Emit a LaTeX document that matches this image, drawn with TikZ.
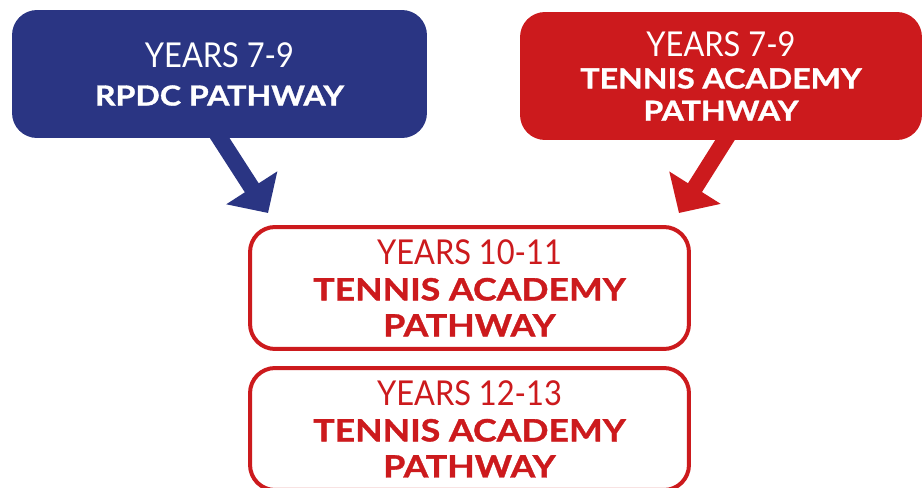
\documentclass[tikz,border=0pt]{standalone}
\usepackage{fontspec}
\setmainfont{Lato}
\newfontfamily\headfont{Lato}[FakeStretch=1.16, BoldFeatures={FakeBold=1.2}]
\newfontfamily\yrsfont{Lato}[FakeStretch=0.9]
\usetikzlibrary{arrows.meta}
\definecolor{rpdcblue}{HTML}{2A3583}
\definecolor{tared}{HTML}{CC1A1D}
\newcommand{\yrs}[1]{{\yrsfont\fontsize{19.5pt}{20.5pt}\mdseries\selectfont #1}}

\begin{document}
\begin{tikzpicture}[
  x=0.02cm, y=-0.02cm,
  every node/.style = {font=\headfont\fontsize{17.5pt}{20.5pt}\selectfont\bfseries, align=center},
  solidbox/.style   = {fill=#1, text=white, rounded corners=0.5cm, inner sep=0pt,
                       font=\headfont\fontsize{15.75pt}{18.4pt}\selectfont\bfseries},
  outlinebox/.style = {draw=tared, line width=0.08cm, text=tared,
                       rounded corners=0.5cm, fill=white,
                       minimum width=8.78cm, minimum height=2.44cm, inner sep=0pt},
  fatarrow/.style   = {draw=#1, line width=0.33cm,
                       -{Triangle[width=1.18cm, length=0.6cm]}},
]
  \useasboundingbox (0,0) rectangle (923,487);
  \clip (0,0) rectangle (923,487);

  % ------------------------------------------------------------ top row
  \node[solidbox=rpdcblue, minimum width=8.3cm, minimum height=2.56cm]
        (rpdc) at (219.5,74) {\yrs{YEARS 7-9}\\[3.5pt]RPDC PATHWAY};
  \node[solidbox=tared, minimum width=8.04cm, minimum height=2.56cm]
        (tatop) at (721,76) {\yrs{YEARS 7-9}\\TENNIS ACADEMY\\PATHWAY};

  % ------------------------------------------------------------ lower stack
  \node[outlinebox] (ta1011) at (469.5,288)
        {\yrs{YEARS 10-11}\\TENNIS ACADEMY\\PATHWAY};
  \node[outlinebox] (ta1213) at (469.5,429)
        {\yrs{YEARS 12-13}\\TENNIS ACADEMY\\PATHWAY};

  % ------------------------------------------------------------ arrows
  \draw[fatarrow=rpdcblue] ([shift={(-8,-13)}]rpdc.south)
        -- ([shift={(20,-12)}]ta1011.north west);
  \draw[fatarrow=tared] ([shift={(12,-13)}]tatop.south)
        -- ([shift={(-12,-12)}]ta1011.north east);

\end{tikzpicture}
\end{document}
